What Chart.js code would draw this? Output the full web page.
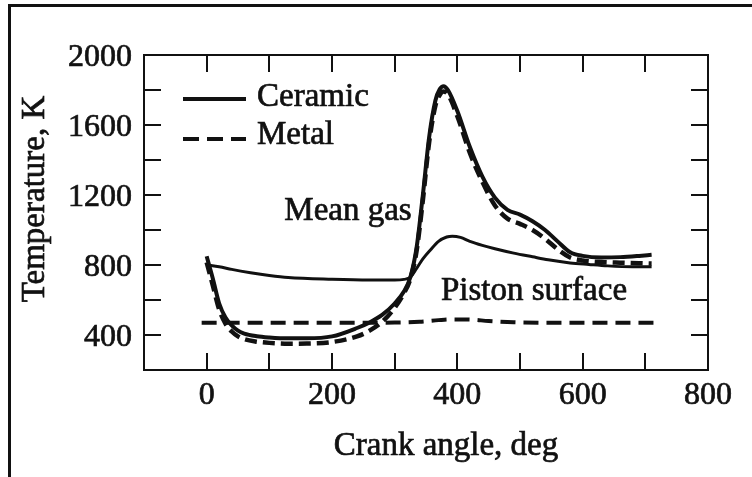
<!DOCTYPE html>
<html>
<head>
<meta charset="utf-8">
<script src="https://cdn.jsdelivr.net/npm/chart.js@4.4.1/dist/chart.umd.min.js"></script>
<style>
    html, body { margin: 0; padding: 0; background: #fff; }
    #wrap { width: 752px; height: 477px; position: relative; }
</style>
</head>
<body>
<div id="wrap"><canvas id="chart"></canvas></div>
<script>
const INK = "#111";
const SERIF = "'Liberation Serif', 'Times New Roman', serif";

// crank angle (deg) for the two gas curves
const gasAngles = [0, 10, 20, 30, 40, 50, 60, 80, 100, 130, 160, 200, 240, 260, 280, 300, 315, 325, 335, 345, 355, 365, 372, 378, 385, 400, 420, 440, 460, 480, 500, 520, 540, 560, 580, 600, 630, 660, 690, 710];
const ceramicGas = [850, 720, 580, 500, 455, 425, 408, 393, 386, 381, 381, 392, 440, 472, 515, 580, 650, 730, 900, 1200, 1530, 1740, 1805, 1822, 1800, 1680, 1474, 1305, 1185, 1115, 1088, 1050, 1000, 935, 873, 852, 843, 845, 852, 858];
const metalGas = [815, 680, 545, 465, 420, 392, 376, 362, 355, 350, 351, 360, 392, 425, 475, 555, 640, 720, 880, 1170, 1500, 1710, 1772, 1792, 1775, 1650, 1440, 1275, 1140, 1065, 1035, 1000, 950, 890, 843, 826, 817, 813, 810, 808];

// piston surface curves
const ceramicSurfAngles = [0, 20, 40, 70, 100, 130, 200, 260, 300, 315, 325, 335, 345, 357, 370, 383, 392, 405, 420, 440, 460, 490, 520, 545, 580, 610, 640, 680, 710];
const ceramicSurface = [800, 790, 775, 756, 740, 728, 718, 714, 714, 718, 730, 780, 835, 886, 935, 960, 965, 958, 935, 912, 893, 868, 847, 830, 812, 803, 795, 790, 790];
const metalSurfAngles = [-8, 100, 200, 300, 340, 370, 390, 420, 450, 490, 550, 715];
const metalSurface = [470, 470, 470, 471, 476, 485, 489, 488, 480, 473, 470, 470];

// axis ticks
const xTickMarks = [0, 100, 200, 300, 400, 500, 600, 700];
const xTickLabels = [0, 200, 400, 600, 800];
const yTickMarks = [400, 600, 800, 1000, 1200, 1400, 1600, 1800];
const yTickLabels = [400, 800, 1200, 1600, 2000];

function toPoints(xs, ys) {
    return xs.map((x, i) => ({ x: x, y: ys[i] }));
}

function lineSet(label, xs, ys, width, dash) {
    return {
        label: label,
        data: toPoints(xs, ys),
        borderColor: INK,
        borderWidth: width,
        borderDash: dash,
        pointRadius: 0,
        fill: false,
        cubicInterpolationMode: "monotone"
    };
}

// scanned print looks a bit heavier than the plain font
function inkText(ctx, text, x, y) {
    ctx.fillText(text, x, y);
    ctx.strokeText(text, x, y);
}

const decorPlugin = {
    id: "decor",
    afterDraw(chart) {
        const ctx = chart.ctx;
        const area = chart.chartArea;
        const sx = chart.scales.x;
        const sy = chart.scales.y;
        const tick = 17;

        ctx.save();
        ctx.strokeStyle = INK;
        ctx.fillStyle = INK;
        ctx.setLineDash([]);

        // outer frame of the figure (top and left only)
        ctx.lineWidth = 3;
        ctx.beginPath();
        ctx.moveTo(752, 5.5);
        ctx.lineTo(9.5, 5.5);
        ctx.lineTo(9.5, 477);
        ctx.stroke();

        // plot box
        ctx.lineWidth = 2;
        ctx.strokeRect(area.left, area.top, area.right - area.left, area.bottom - area.top);

        // inward ticks
        ctx.beginPath();
        xTickMarks.forEach(v => {
            const px = Math.round(sx.getPixelForValue(v));
            ctx.moveTo(px, area.bottom);
            ctx.lineTo(px, area.bottom - tick);
            ctx.moveTo(px, area.top);
            ctx.lineTo(px, area.top + tick);
        });
        yTickMarks.forEach(v => {
            const py = Math.round(sy.getPixelForValue(v));
            ctx.moveTo(area.left, py);
            ctx.lineTo(area.left + tick, py);
            ctx.moveTo(area.right, py);
            ctx.lineTo(area.right - tick, py);
        });
        ctx.stroke();

        // legend
        ctx.lineWidth = 4;
        ctx.beginPath();
        ctx.moveTo(183, 99);
        ctx.lineTo(246, 99);
        ctx.stroke();
        ctx.setLineDash([16, 8]);
        ctx.beginPath();
        ctx.moveTo(183, 139);
        ctx.lineTo(246, 139);
        ctx.stroke();
        ctx.setLineDash([]);

        ctx.lineWidth = 0.7;
        ctx.font = "33px " + SERIF;
        ctx.textBaseline = "middle";
        ctx.textAlign = "left";
        inkText(ctx, "Ceramic", 257, 97);
        inkText(ctx, "Metal", 257, 135);

        // curve notes
        ctx.textAlign = "center";
        inkText(ctx, "Mean gas", 348, 211);
        inkText(ctx, "Piston surface", 534, 291);

        // axis titles
        inkText(ctx, "Crank angle, deg", 446, 446);
        ctx.translate(35, 199);
        ctx.rotate(-Math.PI / 2);
        inkText(ctx, "Temperature, K", 0, 0);
        ctx.restore();
    }
};

new Chart(document.getElementById("chart"), {
    type: "line",
    data: {
        datasets: [
            lineSet("Ceramic gas", gasAngles, ceramicGas, 4, []),
            lineSet("Metal gas", gasAngles, metalGas, 4.5, [12, 6]),
            lineSet("Ceramic surface", ceramicSurfAngles, ceramicSurface, 3, []),
            lineSet("Metal surface", metalSurfAngles, metalSurface, 4, [15, 8])
        ]
    },
    options: {
        responsive: true,
        maintainAspectRatio: false,
        devicePixelRatio: 1,
        animation: false,
        layout: {
            padding: { top: 55, right: 44, left: 0, bottom: 0 }
        },
        plugins: {
            legend: { display: false },
            tooltip: { enabled: false }
        },
        scales: {
            x: {
                type: "linear",
                min: -100,
                max: 800,
                afterFit: s => { s.height = 107; },
                grid: { display: false, drawTicks: false },
                border: { display: false },
                afterBuildTicks: s => {
                    s.ticks = xTickLabels.map(v => ({ value: v }));
                },
                ticks: {
                    autoSkip: false,
                    maxRotation: 0,
                    padding: 6,
                    color: INK,
                    textStrokeColor: INK,
                    textStrokeWidth: 0.7,
                    font: { family: SERIF, size: 32 },
                    callback: v => String(v)
                }
            },
            y: {
                type: "linear",
                min: 200,
                max: 2000,
                afterFit: s => { s.width = 144; },
                grid: { display: false, drawTicks: false },
                border: { display: false },
                afterBuildTicks: s => {
                    s.ticks = yTickLabels.map(v => ({ value: v }));
                },
                ticks: {
                    padding: 12,
                    labelOffset: 3,
                    color: INK,
                    textStrokeColor: INK,
                    textStrokeWidth: 0.7,
                    font: { family: SERIF, size: 32 },
                    callback: v => String(v)
                }
            }
        }
    },
    plugins: [decorPlugin]
});
</script>
</body>
</html>
